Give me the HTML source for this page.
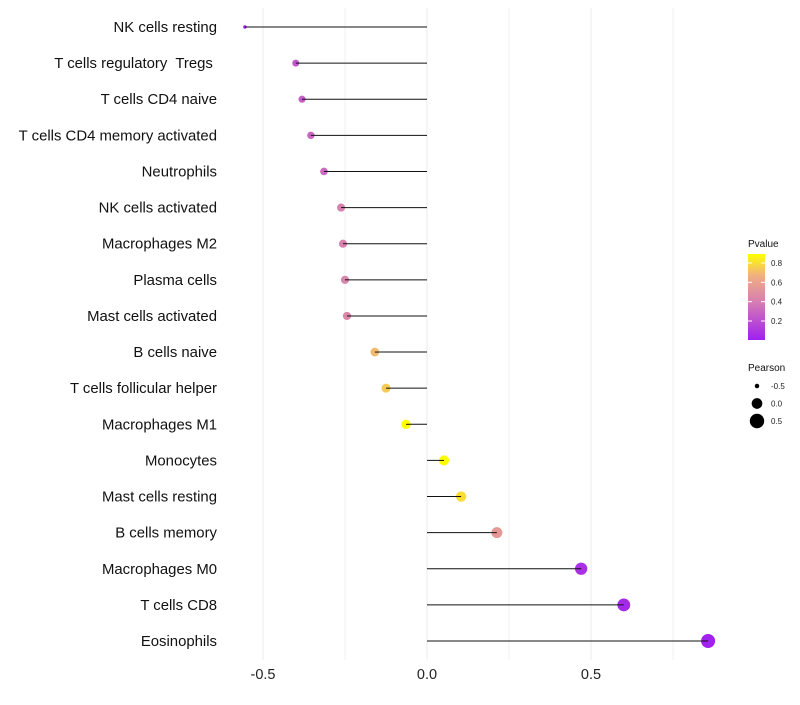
<!DOCTYPE html>
<html><head><meta charset="utf-8"><style>
body{margin:0;background:#fff;font-family:"Liberation Sans",sans-serif}
text{white-space:pre}
</style></head><body>
<svg id="c" width="800" height="700" xmlns="http://www.w3.org/2000/svg">
<defs><linearGradient id="g" x1="0" y1="1" x2="0" y2="0">
<stop offset="0" stop-color="#a020f0"/><stop offset="0.45" stop-color="#d77fb0"/><stop offset="0.75" stop-color="#f0b080"/><stop offset="1" stop-color="#ffff00"/></linearGradient></defs>
</svg>
<script>
const categories=["NK cells resting","T cells regulatory  Tregs ","T cells CD4 naive","T cells CD4 memory activated","Neutrophils","NK cells activated","Macrophages M2","Plasma cells","Mast cells activated","B cells naive","T cells follicular helper","Macrophages M1","Monocytes","Mast cells resting","B cells memory","Macrophages M0","T cells CD8","Eosinophils"];
const pearson=[-0.555,-0.40,-0.381,-0.354,-0.314,-0.262,-0.256,-0.25,-0.244,-0.159,-0.125,-0.064,0.052,0.104,0.213,0.47,0.60,0.857];
const pvalue=[0.03,0.25,0.27,0.3,0.33,0.42,0.42,0.44,0.45,0.7,0.75,0.9,0.9,0.8,0.55,0.08,0.05,0.02];
const xTicks=[-0.5,0,0.5];
const xMinor=[-0.25,0.25,0.75];
const legendTicks=[0.2,0.4,0.6,0.8];
const sizeTicks=[-0.5,0,0.5];
const svg=document.getElementById('c');const NS='http://www.w3.org/2000/svg';
function mk(t,a,p){const e=document.createElementNS(NS,t);for(const k in a)e.setAttribute(k,a[k]);(p||svg).appendChild(e);return e;}
const X=v=>427+v*328;
const Y=i=>27+i*(614/17);
const R=v=>Math.sqrt(Math.max(1.7,1.7+(v+0.555)*32.5));
const RP=v=>v<-0.5?1.8:Math.sqrt(7.7+(v+0.555)*29.2);
const stops=[[0,[160,32,240]],[0.45,[215,127,176]],[0.75,[240,176,128]],[1,[255,255,0]]];
function col(p){const t=Math.max(0,Math.min(1,(p-0.014)/(0.893-0.014)));for(let i=1;i<stops.length;i++){if(t<=stops[i][0]){const a=stops[i-1],b=stops[i],f=(t-a[0])/(b[0]-a[0]);return 'rgb('+a[1].map((c,j)=>Math.round(c+(b[1][j]-c)*f)).join(',')+')';}}return 'rgb(255,255,0)';}
xMinor.forEach(v=>{const l=mk('line',{x1:X(v),x2:X(v),y1:8,y2:660,stroke:'#f2f2f2','stroke-width':1});

});
xTicks.forEach(v=>{const l=mk('line',{x1:X(v),x2:X(v),y1:8,y2:660,stroke:'#ebebeb','stroke-width':1});


const t=mk('text',{x:X(v),y:679,'text-anchor':'middle','font-size':14.5,fill:'#222'});t.textContent=v===0?'0.0':String(v);

});
categories.forEach((c,i)=>{const y=Y(i);
const t=mk('text',{x:217,y:y+5,'text-anchor':'end','font-size':14.9,fill:'#111'});t.textContent=c;


const l=mk('line',{x1:X(0),x2:X(pearson[i]),y1:y,y2:y,stroke:'#111','stroke-width':1});


const r=RP(pearson[i]);
const d=mk('circle',{cx:X(pearson[i]),cy:y,r:r,fill:col(pvalue[i])});


mk('line',{x1:X(pearson[i]),x2:X(pearson[i])+(pearson[i]<0?1:-1)*r,y1:y,y2:y,stroke:'#111','stroke-width':1});});
const lt=mk('text',{x:748,y:247,'font-size':10,fill:'#111'});lt.textContent='Pvalue';


const cb=mk('rect',{x:748,y:254,width:17,height:86,fill:'url(#g)'});


const PY=p=>321-(p-0.2)*(58/0.6);
legendTicks.forEach(p=>{mk('line',{x1:748,x2:752,y1:PY(p),y2:PY(p),stroke:'#fff'});mk('line',{x1:761,x2:765,y1:PY(p),y2:PY(p),stroke:'#fff'});
const t=mk('text',{x:771,y:PY(p)+3,'font-size':8,fill:'#222'});t.textContent=p.toFixed(1);

});
const st=mk('text',{x:748,y:371,'font-size':10,fill:'#111'});st.textContent='Pearson';


sizeTicks.forEach((v,i)=>{const y=386+i*17.5;
const d=mk('circle',{cx:757,cy:y,r:R(v)*1.2,fill:'#000'});


const t=mk('text',{x:771,y:y+3,'font-size':8,fill:'#222'});t.textContent=v===0?'0.0':String(v);

});
</script>
</body></html>
